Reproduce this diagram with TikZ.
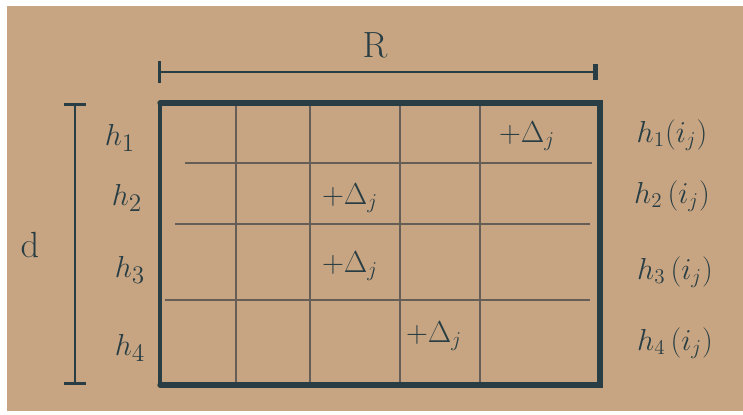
\documentclass[tikz,border=0pt]{standalone}
\usepackage{tikz}
\usetikzlibrary{arrows.meta, positioning, calc}
\usepackage{xcolor}
\definecolor{cardboard}{RGB}{200,165,130}
\definecolor{ink}{RGB}{40,62,68}
\definecolor{pencil}{RGB}{100,94,86}

\begin{document}
\begin{tikzpicture}[
        x=0.02cm, y=-0.02cm,
        rowlabel/.style={text=ink, font=\fontsize{19}{22}\selectfont},
        hashlabel/.style={text=ink, font=\fontsize{18}{22}\selectfont},
        update/.style={text=ink, font=\fontsize{18}{22}\selectfont},
        sizelabel/.style={text=ink, font=\fontsize{22}{26}\selectfont},
        gridline/.style={draw=pencil, line width=0.9pt},
        frame/.style={draw=ink, line width=3pt, line cap=round},
        dimline/.style={draw=ink, line width=1.6pt}
    ]
        \useasboundingbox (0,0) rectangle (743,414);
        \fill[white] (0,0) rectangle (743,414);
        \fill[cardboard] (7,6) rectangle (743,411);

        % corners of the counter array
        \coordinate (nw) at (160,103);
        \coordinate (ne) at (600,103);
        \coordinate (sw) at (160,385);
        \coordinate (se) at (600,385);

        % pencil grid
        \foreach \x in {236,310,400} {
            \draw[gridline] (\x,103) -- (\x,385);
        }
        \draw[gridline, line width=1.4pt] (480,103) -- (480,385);
        \draw[gridline] (185,163) -- (592,163);
        \draw[gridline] (175,224) -- (590,224);
        \draw[gridline] (165,300) -- (590,300);

        % frame
        \draw[frame, line width=1.8pt] (nw) -- (sw);
        \draw[frame] (nw) -- (ne) -- (se) -- (sw);

        % width R
        \coordinate (rl) at (158,72);
        \coordinate (rr) at (598,72);
        \draw[dimline, {Bar[width=13pt]}-{Bar[width=9pt, line width=3pt]}] (rl) -- (rr);
        \node[sizelabel] (width) at (375,45) {$\mathrm{R}$};

        % depth d
        \coordinate (dt) at (75,103);
        \coordinate (db) at (75,385);
        \draw[dimline, {Bar[width=13pt]}-{Bar[width=13pt]}] (dt) -- (db);
        \node[sizelabel] (depth) at (30,245) {$\mathrm{d}$};

        % hash functions
        \node[rowlabel] (h1) at (120,138) {$h_1$};
        \node[rowlabel] (h2) at (127,198) {$h_2$};
        \node[rowlabel] (h3) at (130,270) {$h_3$};
        \node[rowlabel] (h4) at (130,348) {$h_4$};

        \node[hashlabel] (hi1) at (672,135) {$h_1(i_j)$};
        \node[hashlabel] (hi2) at (672,196) {$h_2\,(i_j)$};
        \node[hashlabel] (hi3) at (675,272) {$h_3\,(i_j)$};
        \node[hashlabel] (hi4) at (675,343) {$h_4\,(i_j)$};

        % updated counters
        \node[update] (u1) at (527,136) {$+\Delta_j$};
        \node[update] (u2) at (350,198) {$+\Delta_j$};
        \node[update] (u3) at (350,266) {$+\Delta_j$};
        \node[update] (u4) at (434,336) {$+\Delta_j$};
    \end{tikzpicture}
\end{document}
